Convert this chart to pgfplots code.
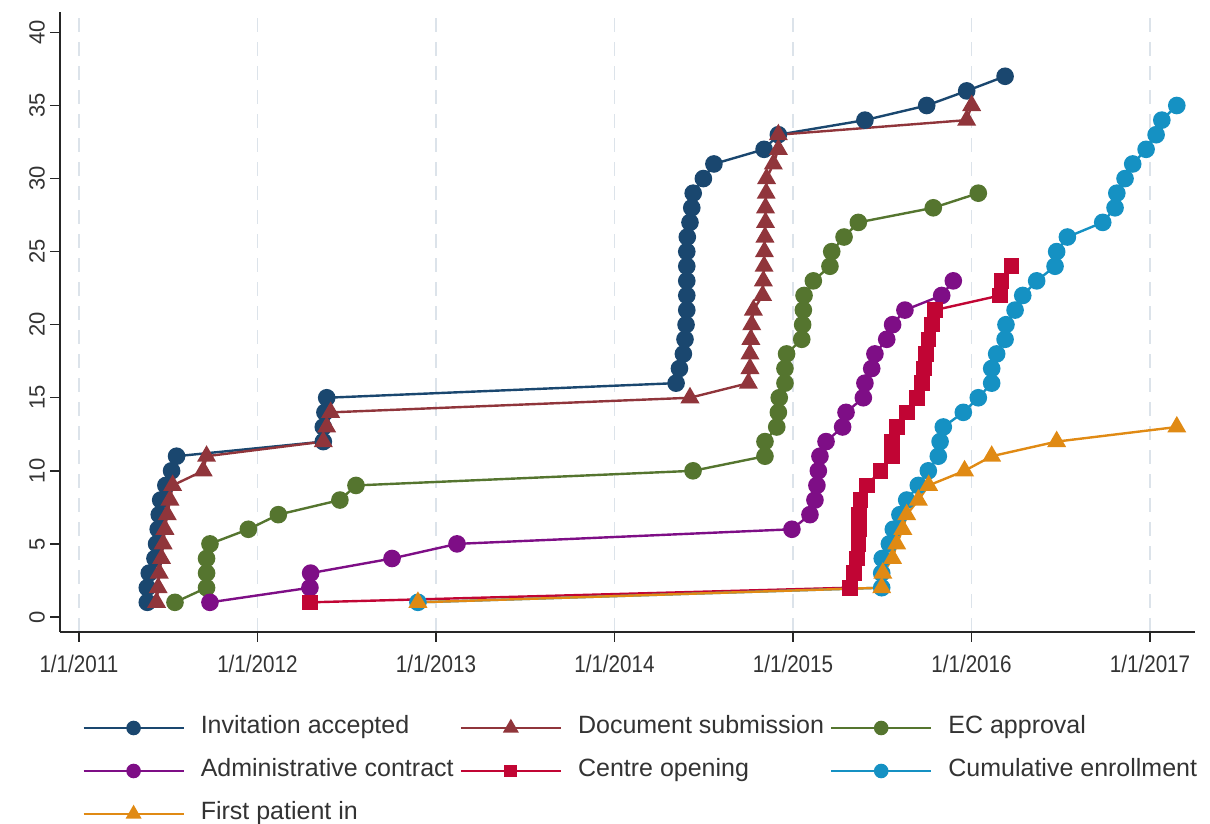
\documentclass[border=0pt]{standalone}
\usepackage{fontspec}
\setmainfont{Liberation Sans}
\usepackage{graphicx}
\usepackage{pgfplots}
\pgfplotsset{compat=1.18}

\definecolor{cinv}{HTML}{1A476F}
\definecolor{cdoc}{HTML}{90353B}
\definecolor{cec}{HTML}{55752F}
\definecolor{cadm}{HTML}{7E0E86}
\definecolor{ccen}{HTML}{C10534}
\definecolor{ccum}{HTML}{1591C3}
\definecolor{cfpi}{HTML}{E08A14}
\definecolor{cgrid}{HTML}{DCE3EA}

\newcommand{\xl}[1]{\scalebox{0.86}[1]{1/1/#1}}

\begin{document}
\begin{tikzpicture}
\useasboundingbox (0,0) rectangle (605pt,412pt);
\begin{axis}[
    at={(30pt,96pt)}, anchor=south west,
    scale only axis,
    width=567.5pt, height=310pt,
    xmin=2010.894, xmax=2017.252,
    ymin=-1.03, ymax=41.4,
    axis lines*=left,
    axis line style={-, line width=0.8pt, black!85},
    xtick={2011,2012,2013,2014,2015,2016,2017},
    xticklabels={\xl{2011},\xl{2012},\xl{2013},\xl{2014},\xl{2015},\xl{2016},\xl{2017}},
    ytick={0,5,...,40},
    tick align=outside,
    major tick length=5pt,
    tick style={black!85, line width=0.7pt},
    xmajorgrids,
    major x grid style={cgrid, dash pattern=on 7pt off 5pt, line width=0.8pt},
    /pgf/number format/assume math mode=true,
    yticklabel style={rotate=90, anchor=south, font=\fontsize{11}{13}\selectfont, text=black!80},
    yticklabel shift=-1pt,
    xticklabel style={font=\fontsize{12}{14}\selectfont, text=black!80},
    xticklabel shift=3pt,
    every axis plot/.append style={line width=1.2pt},
    legend columns=3,
    legend cell align=left,
    legend style={at={(0,0)}, anchor=north west, xshift=11pt, yshift=-41.8pt,
        draw=none, fill=none, inner sep=0pt, row sep=9.5pt,
        font=\fontsize{12.5}{15}\selectfont, text=black!80,
        nodes={inner xsep=8pt, inner ysep=0pt, text height=9pt, text depth=3pt},
        /tikz/every even column/.append style={column sep=-5pt}},
    legend image code/.code={\draw[#1, every mark/.append style={scale=0.8},
        mark repeat=2, mark phase=2]
        plot coordinates {(0pt,0pt) (25pt,0pt) (50pt,0pt)};},
]
% Invitation accepted
\addplot[cinv, mark=*, mark size=3.8pt, mark options={solid, fill=cinv}] table {
x y
2011.383 1
2011.383 2
2011.394 3
2011.426 4
2011.435 5
2011.444 6
2011.450 7
2011.458 8
2011.487 9
2011.519 10
2011.547 11
2012.369 12
2012.369 13
2012.378 14
2012.388 15
2014.345 16
2014.364 17
2014.386 18
2014.395 19
2014.401 20
2014.405 21
2014.405 22
2014.405 23
2014.405 24
2014.405 25
2014.408 26
2014.423 27
2014.433 28
2014.441 29
2014.498 30
2014.557 31
2014.838 32
2014.918 33
2015.403 34
2015.749 35
2015.973 36
2016.188 37
};
\addlegendentry{Invitation accepted}
% Document submission
\addplot[cdoc, mark=triangle*, mark size=4.3pt, mark options={solid, fill=cdoc}] table {
x y
2011.435 1
2011.444 2
2011.450 3
2011.463 4
2011.472 5
2011.482 6
2011.495 7
2011.510 8
2011.525 9
2011.696 10
2011.715 11
2012.369 12
2012.388 13
2012.410 14
2014.423 15
2014.750 16
2014.759 17
2014.759 18
2014.764 19
2014.769 20
2014.778 21
2014.830 22
2014.834 23
2014.838 24
2014.840 25
2014.843 26
2014.846 27
2014.846 28
2014.850 29
2014.852 30
2014.890 31
2014.918 32
2014.918 33
2015.973 34
2016.001 35
};
\addlegendentry{Document submission}
% EC approval
\addplot[cec, mark=*, mark size=3.8pt, mark options={solid, fill=cec}] table {
x y
2011.538 1
2011.715 2
2011.715 3
2011.715 4
2011.734 5
2011.949 6
2012.117 7
2012.462 8
2012.552 9
2014.440 10
2014.843 11
2014.843 12
2014.909 13
2014.918 14
2014.923 15
2014.955 16
2014.955 17
2014.964 18
2015.049 19
2015.054 20
2015.058 21
2015.062 22
2015.114 23
2015.207 24
2015.217 25
2015.286 26
2015.366 27
2015.786 28
2016.038 29
};
\addlegendentry{EC approval}
% Administrative contract
\addplot[cadm, mark=*, mark size=3.8pt, mark options={solid, fill=cadm}] table {
x y
2011.734 1
2012.294 2
2012.298 3
2012.754 4
2013.118 5
2014.994 6
2015.095 7
2015.123 8
2015.134 9
2015.142 10
2015.151 11
2015.185 12
2015.278 13
2015.297 14
2015.394 15
2015.403 16
2015.441 17
2015.459 18
2015.525 19
2015.558 20
2015.627 21
2015.833 22
2015.898 23
};
\addlegendentry{Administrative contract}
% Centre opening
\addplot[ccen, mark=square*, mark size=3.3pt, mark options={solid, fill=ccen}] table {
x y
2012.294 1
2015.319 2
2015.342 3
2015.360 4
2015.366 5
2015.371 6
2015.371 7
2015.379 8
2015.413 9
2015.491 10
2015.553 11
2015.553 12
2015.581 13
2015.640 14
2015.693 15
2015.721 16
2015.734 17
2015.745 18
2015.758 19
2015.777 20
2015.795 21
2016.160 22
2016.169 23
2016.225 24
};
\addlegendentry{Centre opening}
% Cumulative enrollment
\addplot[ccum, mark=*, mark size=3.8pt, mark options={solid, fill=ccum}] table {
x y
2012.899 1
2015.497 2
2015.497 3
2015.500 4
2015.540 5
2015.562 6
2015.599 7
2015.637 8
2015.702 9
2015.758 10
2015.814 11
2015.824 12
2015.842 13
2015.954 14
2016.038 15
2016.113 16
2016.113 17
2016.141 18
2016.188 19
2016.193 20
2016.244 21
2016.287 22
2016.365 23
2016.468 24
2016.477 25
2016.537 26
2016.735 27
2016.804 28
2016.814 29
2016.860 30
2016.903 31
2016.978 32
2017.034 33
2017.066 34
2017.150 35
};
\addlegendentry{Cumulative enrollment}
% First patient in
\addplot[cfpi, mark=triangle*, mark size=4.3pt, mark options={solid, fill=cfpi}] table {
x y
2012.899 1
2015.497 2
2015.503 3
2015.558 4
2015.581 5
2015.615 6
2015.637 7
2015.702 8
2015.760 9
2015.961 10
2016.113 11
2016.477 12
2017.150 13
};
\addlegendentry{First patient in}
\end{axis}
\end{tikzpicture}
\end{document}
